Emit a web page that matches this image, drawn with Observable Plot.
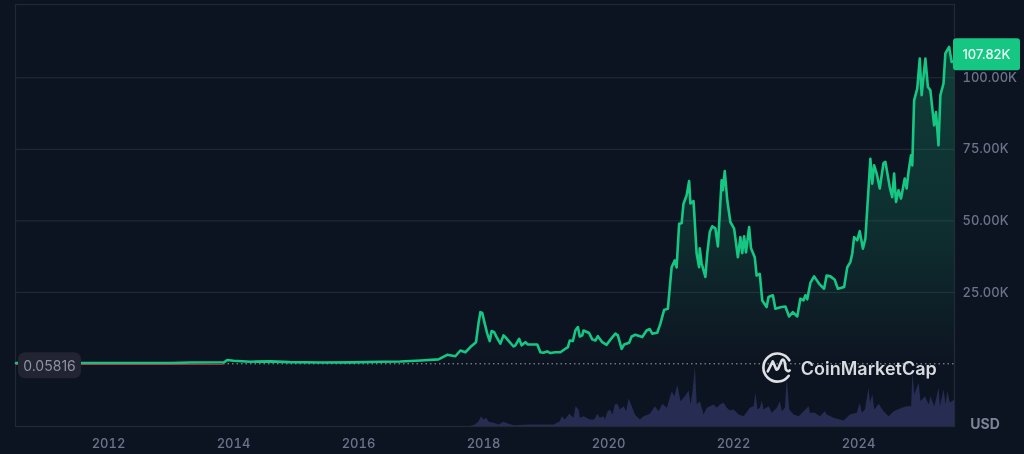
<!DOCTYPE html>
<html>
<head>
<meta charset="utf-8">
<script src="https://cdn.jsdelivr.net/npm/d3@7"></script>
<script src="https://cdn.jsdelivr.net/npm/@observablehq/plot@0.6"></script>
<style>
html,body{margin:0;padding:0;background:#0d1421;width:1024px;height:454px;overflow:hidden}
#chart{position:relative;width:1024px;height:454px;filter:blur(.35px)}
#chart svg{display:block}
</style>
</head>
<body>
<div id="chart"></div>
<script>
const priceYears = [2010.52,2011.5,2012.5,2013.0,2013.31,2013.85,2013.9,2014.0,2014.27,2014.6,2014.9,2015.4,2015.9,2016.35,2016.67,2017.0,2017.28,
2017.42,2017.55,2017.63,2017.71,2017.79,2017.88,2017.92,2017.95,2017.98,2018.02,2018.06,2018.1,2018.13,2018.17,2018.21,2018.27,2018.32,2018.35,2018.48,2018.51,2018.57,2018.61,2018.67,2018.71,2018.86,2018.91,2018.96,2019.02,2019.07,2019.15,2019.23,2019.31,2019.35,2019.38,2019.43,2019.47,2019.51,2019.54,2019.58,2019.6,2019.69,2019.74,2019.79,2019.83,2019.9,2019.97,
2020.03,2020.11,2020.15,2020.21,2020.25,2020.33,2020.37,2020.43,2020.54,2020.61,2020.66,2020.7,2020.78,2020.83,2020.89,2020.95,2021.01,2021.06,2021.09,2021.13,2021.17,2021.2,2021.25,2021.29,2021.31,2021.36,2021.37,2021.41,2021.45,2021.46,2021.49,2021.55,2021.58,2021.62,2021.66,2021.71,2021.75,2021.81,2021.83,2021.86,2021.9,2021.95,
2022.01,2022.07,2022.11,2022.14,2022.17,2022.2,2022.25,2022.28,2022.34,2022.37,2022.42,2022.46,2022.53,2022.56,2022.63,2022.67,2022.75,2022.83,2022.89,2022.95,2023.02,2023.07,2023.12,2023.15,2023.18,2023.23,2023.29,2023.37,2023.45,2023.49,2023.55,2023.62,2023.67,2023.77,2023.82,2023.87,2023.9,2023.93,2023.98,
2024.02,2024.07,2024.11,2024.19,2024.22,2024.25,2024.29,2024.34,2024.4,2024.43,2024.5,2024.54,2024.57,2024.6,2024.64,2024.68,2024.74,2024.77,2024.8,2024.84,2024.86,2024.89,2024.94,2024.98,2025.01,2025.07,2025.11,2025.15,2025.21,2025.24,2025.28,2025.31,2025.36,2025.39,2025.45,2025.49,2025.54];
const priceK = [0.3,0.3,0.3,0.3,0.5,0.6,1.4,1.1,0.8,0.9,0.65,0.5,0.55,0.75,0.85,1.2,1.6,
3.2,2.7,4.7,4.1,5.9,7.6,14.2,18.1,17.8,14.1,10.6,8.0,11.5,11.1,9.4,7.1,10,9.4,6.1,6.5,8.8,6.5,7.6,6.8,6.8,4.1,3.9,4.4,3.8,4.1,4.1,5.3,5.9,8.2,8,11.7,12.9,9.6,10,11.7,10.8,8.6,8.2,9.7,7.6,6.7,
8.5,10.6,10,5.3,6.8,7.4,9.6,10.2,9.4,11.7,12.2,10.6,10.9,14.1,18.9,19.3,33.8,36.2,33.7,49,49.2,56,58.9,63.9,56.1,56.9,53.5,38.6,33.8,40.4,35.1,30.4,38.6,46.1,48.1,47.4,41.1,64.2,60.7,67.4,57.2,49.6,
47.3,37.3,44.3,38.7,44.6,39,47.8,40.4,37.3,30.9,31.5,22.2,19.9,23.4,24,19.3,19.8,20.1,16.6,18.1,16.6,22.8,22.2,24,22.6,28.3,30.6,28,26.3,30.9,30.6,29.4,26.3,26.9,33.8,35.6,38.6,44.3,43.2,
46.4,40.3,43.8,71.7,63,69.4,66.6,61.3,70.2,70.6,61.8,58.3,66.5,56.6,60.7,57.8,64.8,61.3,67.1,72.9,69.4,92.1,96.2,106.7,93.9,106.7,96.8,95.6,83.4,88,76.4,93.9,98,108.5,110.8,105.5,106.1];

const volumeYears = [2017.79,2017.87,2017.93,2017.97,2018.01,2018.05,2018.09,2018.17,2018.25,2018.33,2018.41,2018.49,2018.75,2019.13,2019.23,2019.26,2019.31,2019.38,2019.45,2019.48,2019.53,2019.55,2019.61,2019.71,2019.78,2019.83,2019.87,2019.93,2019.95,2019.99,
2020.03,2020.07,2020.11,2020.15,2020.19,2020.25,2020.29,2020.33,2020.38,2020.43,2020.51,2020.57,2020.67,2020.75,2020.81,2020.87,2020.94,2021.02,2021.06,2021.11,2021.16,2021.23,2021.29,2021.32,2021.35,2021.39,2021.42,2021.47,2021.53,2021.58,
2021.63,2021.69,2021.74,2021.79,2021.85,2021.9,2021.95,2022.01,2022.09,2022.17,2022.27,2022.33,2022.36,2022.39,2022.43,2022.46,2022.49,2022.57,2022.62,2022.7,2022.75,2022.78,2022.83,2022.86,2022.9,2022.97,2023.05,2023.13,2023.21,2023.23,2023.31,2023.39,2023.47,2023.5,2023.61,2023.77,2023.87,2023.98,
2024.03,2024.06,2024.11,2024.17,2024.19,2024.23,2024.26,2024.33,2024.41,2024.49,2024.57,2024.7,2024.78,2024.85,2024.87,2024.9,2024.97,2025.0,2025.07,2025.13,2025.16,2025.22,2025.29,2025.31,2025.37,2025.4,2025.43,2025.47,2025.54];
const volumeB = [0,9,29,59,39,49,25,19,9,25,13,5,9,9,29,59,39,73,49,119,99,49,59,39,39,73,49,59,39,85,
99,69,129,133,99,119,89,165,119,69,39,59,73,119,89,133,109,209,179,245,149,179,213,129,199,353,129,149,69,109,
119,129,109,129,139,109,93,99,69,59,109,119,199,99,109,153,99,119,79,109,149,89,109,285,99,69,59,89,119,79,79,59,89,69,49,33,69,79,
139,79,99,229,139,189,99,133,89,59,89,109,119,119,319,189,259,149,179,129,179,119,229,119,219,129,209,139,159];

const yTicks = [25, 50, 75, 100];
const xTicks = [2012, 2014, 2016, 2018, 2020, 2022, 2024];
const basePrice = 0.05816;
const lastPriceLabel = "107.82K";
const brandName = "CoinMarketCap";
const unitLabel = "USD";

const price = priceYears.map((x, i) => ({x, y: priceK[i]}));
const volume = volumeYears.map((x, i) => ({x, v: volumeB[i]}));
const yMin = -21.85, volPerB = 0.0583;
const green = "#16c784", axisColor = "#6b7488", gridColor = "#262b39", frameColor = "#232836";
const font = "Inter, sans-serif";

const svgNS = "http://www.w3.org/2000/svg";
function el(name, attrs, text) {
  const e = document.createElementNS(svgNS, name);
  for (const k in attrs) e.setAttribute(k, attrs[k]);
  if (text) e.textContent = text;
  return e;
}

const plot = Plot.plot({
  width: 1024, height: 454,
  marginLeft: 15, marginRight: 70, marginTop: 4, marginBottom: 28,
  style: {background: "#0d1421", fontFamily: font},
  x: {type: "linear", domain: [2010.512, 2025.536]},
  y: {domain: [yMin, 125.6]},
  marks: [
    () => {
      const defs = el("defs", {});
      const g = el("linearGradient", {id: "areaFill", x1: 0, x2: 0, y1: 0, y2: 1});
      g.append(el("stop", {offset: "0%", "stop-color": green, "stop-opacity": 0.24}));
      g.append(el("stop", {offset: "60%", "stop-color": green, "stop-opacity": 0.14}));
      g.append(el("stop", {offset: "100%", "stop-color": green, "stop-opacity": 0}));
      defs.append(g);
      return defs;
    },
    Plot.gridY(yTicks, {stroke: gridColor, strokeOpacity: 1, strokeWidth: 1}),
    Plot.frame({stroke: frameColor, strokeWidth: 1.2}),
    Plot.areaY(price, {x: "x", y1: basePrice, y2: "y", fill: "url(#areaFill)"}),
    Plot.areaY(volume, {x: "x", y1: yMin, y2: d => yMin + d.v * volPerB, fill: "#272d52"}),
    Plot.ruleY([basePrice], {x1: 2013.84, x2: 2025.536, stroke: "#9aa0aa", strokeWidth: 1, strokeDasharray: "1.5,3"}),
    Plot.line(price, {x: "x", y: "y", stroke: green, strokeWidth: 2.6, strokeLinejoin: "round"}),
    Plot.ruleY([basePrice], {x1: 2010.52, x2: 2013.84, stroke: "#c2404d", strokeWidth: 1, dy: 0.5}),
    Plot.axisX(xTicks, {anchor: "bottom", tickSize: 0, tickPadding: 12, tickFormat: d => String(d), fontSize: 13, fill: axisColor, fontWeight: 500, label: null}),
    Plot.axisY(yTicks, {anchor: "right", tickSize: 0, tickPadding: 8, tickFormat: d => d.toFixed(2) + "K", fontSize: 13, fill: axisColor, fontWeight: 500, textAnchor: "start", label: null}),
    (index, {x, y}, channels, dims) => {
      const g = el("g", {"font-family": font, "text-anchor": "start"});
      const ly = y(priceK[priceK.length - 1]) - 5.5, rx = dims.width - dims.marginRight;
      g.append(el("rect", {x: rx - 1, y: ly - 16, width: 67, height: 32, rx: 3, fill: green}));
      g.append(el("text", {x: rx + 32.5, y: ly, "text-anchor": "middle", "dominant-baseline": "central", fill: "#eafff5", "font-size": 13, "font-weight": 500}, lastPriceLabel));
      const by = y(basePrice);
      g.append(el("rect", {x: dims.marginLeft + 3, y: by - 11, width: 63, height: 26, rx: 7, fill: "#222531"}));
      g.append(el("text", {x: dims.marginLeft + 34.5, y: by + 2.5, "text-anchor": "middle", "dominant-baseline": "central", fill: "#8c93a3", "font-size": 14}, String(basePrice)));
      g.append(el("text", {x: rx + 31, y: dims.height - dims.marginBottom - 3, "text-anchor": "middle", "dominant-baseline": "central", fill: "#7c8496", "font-size": 14, "font-weight": 700}, unitLabel));
      const wm = el("g", {transform: `translate(${x(2022.7)},${by + 3})`, fill: "none", stroke: "#dfe1e5", "stroke-width": 2.6, "stroke-linecap": "round", "stroke-linejoin": "round"});
      wm.append(el("path", {d: "M12 9.5 A14 14 0 1 1 12.6 -6"}));
      wm.append(el("path", {d: "M-9 5 L-4 -5 L-1 2 Q0 5 2 1 L5 -6 Q7 -8 8 -4 L9 3 Q11 6 13 4"}));
      g.append(wm);
      g.append(el("text", {x: x(2022.7) + 24, y: by + 5, "text-anchor": "start", "dominant-baseline": "central", fill: "#d9dbe0", "font-size": 18, "font-weight": 600}, brandName));
      return g;
    }
  ]
});
document.getElementById("chart").append(plot);
</script>
</body>
</html>
